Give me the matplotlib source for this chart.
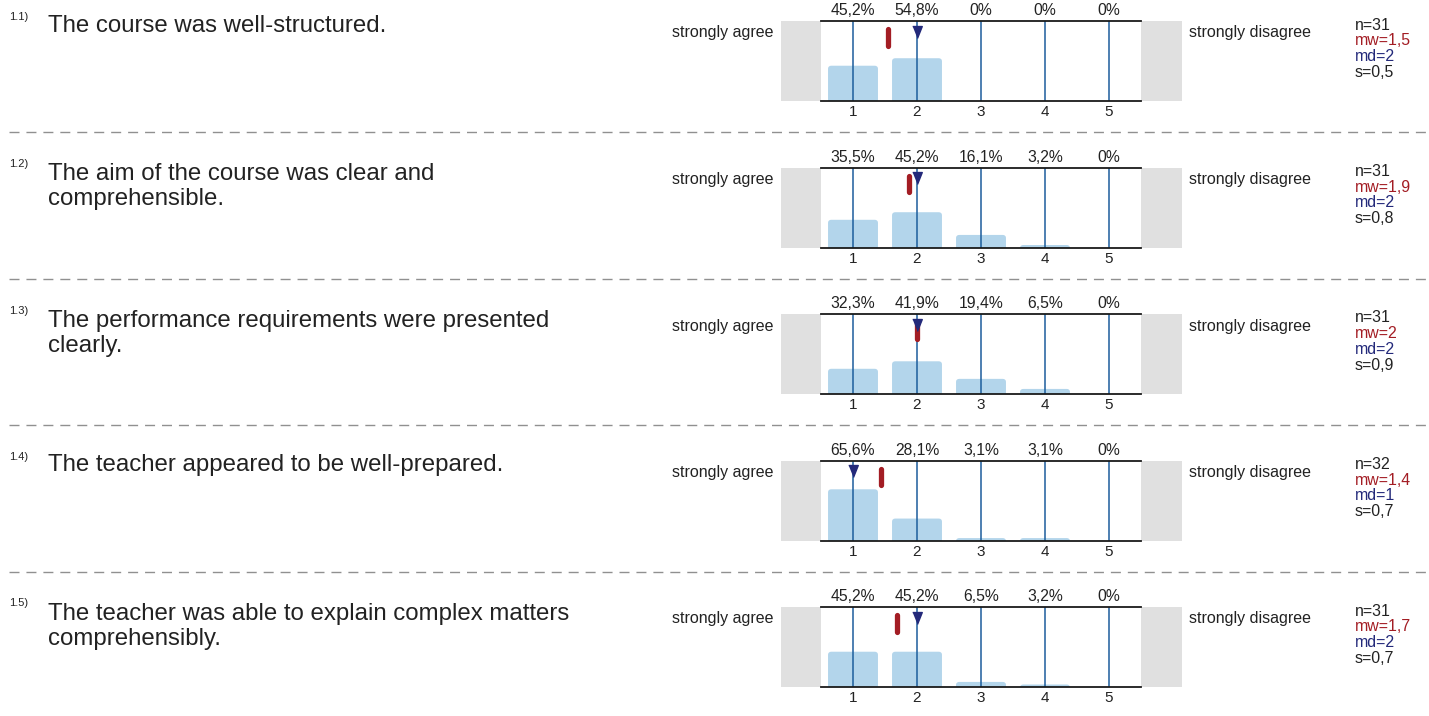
import matplotlib.pyplot as plt
from matplotlib.patches import Rectangle, FancyBboxPatch

plt.rcParams['font.family'] = ['Liberation Sans', 'DejaVu Sans']

# survey data, one entry per question
numbers = ['1.1)', '1.2)', '1.3)', '1.4)', '1.5)']
questions = [
    'The course was well-structured.',
    'The aim of the course was clear and\ncomprehensible.',
    'The performance requirements were presented\nclearly.',
    'The teacher appeared to be well-prepared.',
    'The teacher was able to explain complex matters\ncomprehensibly.',
]
scale = [1, 2, 3, 4, 5]
pct_1 = [45.2, 54.8, 0, 0, 0]
pct_2 = [35.5, 45.2, 16.1, 3.2, 0]
pct_3 = [32.3, 41.9, 19.4, 6.5, 0]
pct_4 = [65.6, 28.1, 3.1, 3.1, 0]
pct_5 = [45.2, 45.2, 6.5, 3.2, 0]
percents = [pct_1, pct_2, pct_3, pct_4, pct_5]
n_vals = [31, 31, 31, 32, 31]
mean_vals = [1.55, 1.87, 2.0, 1.44, 1.68]
mean_labels = ['1,5', '1,9', '2', '1,4', '1,7']
median_vals = [2, 2, 2, 1, 2]
sd_labels = ['0,5', '0,8', '0,9', '0,7', '0,7']
left_label = 'strongly agree'
right_label = 'strongly disagree'

W, H = 1429, 716
TXT = '#222222'
RED = '#a31d24'
NAVY = '#23297a'
BAR = '#b3d5eb'
VLINE = '#1c5d9c'
GRAY = '#e0e0e0'

fig = plt.figure(figsize=(W / 100, H / 100), dpi=100)


def fx(px):
    return px / W


def fy(py):
    return 1 - py / H


YMAX = 102.5
for i in range(len(questions)):
    top = 21 + i * 146.5

    # left column: number + question text (one text per line)
    fig.text(fx(9), fy(top - 3.5), numbers[i], fontsize=8, color=TXT, va='center')
    lines = questions[i].split('\n')
    base = top + (11 if len(lines) == 1 else 13)
    for k, line in enumerate(lines):
        fig.text(fx(48), fy(base + k * 25), line, fontsize=17.3, color=TXT,
                 va='baseline')

    fig.text(fx(773), fy(top + 12), left_label, fontsize=11.5, color=TXT,
             ha='right', va='center')
    fig.text(fx(1189), fy(top + 12), right_label, fontsize=11.5, color=TXT,
             ha='left', va='center')

    # stats block
    stats = [(f'n={n_vals[i]}', TXT), (f'mw={mean_labels[i]}', RED),
             (f'md={median_vals[i]}', NAVY), (f's={sd_labels[i]}', TXT)]
    for k, (s, c) in enumerate(stats):
        fig.text(fx(1355), fy(top + 4 + k * 15.7), s, fontsize=11.4, color=c,
                 ha='left', va='center')

    # chart box
    ax = fig.add_axes([fx(821), fy(top + 80), 320 / W, 80 / H])
    ax.set_xlim(0.5, 5.5)
    ax.set_ylim(0, YMAX)
    ax.set_facecolor('white')
    for side in ['left', 'right']:
        ax.spines[side].set_visible(False)
    for side in ['top', 'bottom']:
        ax.spines[side].set_color('#1a1a1a')
        ax.spines[side].set_linewidth(1.3)
        ax.spines[side].set_zorder(6)
    ax.set_yticks([])
    ax.set_xticks(scale)
    ax.set_xticklabels([str(s) for s in scale], fontsize=11, color=TXT)
    ax.tick_params(axis='x', length=0, pad=3)

    # grey end boxes
    ax.add_patch(Rectangle((-0.125, 0), 0.625, YMAX, color=GRAY, clip_on=False, lw=0))
    ax.add_patch(Rectangle((5.5, 0), 0.64, YMAX, color=GRAY, clip_on=False, lw=0))

    for x, p in zip(scale, percents[i]):
        if p > 0:
            ax.add_patch(FancyBboxPatch((x - 0.39, -5), 0.78, p + 5,
                                        boxstyle='round,pad=0,rounding_size=0.05',
                                        mutation_aspect=80, fc=BAR, ec='none', zorder=2))
        lab = (f'{p:.1f}'.replace('.', ',') if p > 0 else '0') + '%'
        ax.annotate(lab, (x, 1), xycoords=('data', 'axes fraction'),
                    xytext=(0, 2), textcoords='offset points',
                    ha='center', va='bottom', fontsize=11.3, color=TXT,
                    annotation_clip=False)

    ax.vlines(scale, 0, YMAX, color=VLINE, lw=1.1, zorder=3)

    # mean bar and median triangle
    ax.plot([mean_vals[i], mean_vals[i]], [92, 70.5], color=RED, lw=3.8,
            solid_capstyle='round', zorder=4)
    ax.plot([median_vals[i]], [88.5], marker=[(-0.4, 0.5), (0.4, 0.5), (0, -0.5)],
            markersize=8.6, color=NAVY, ls='none', zorder=5)

    # dashed separator
    if i < len(questions) - 1:
        fig.add_artist(plt.Line2D([fx(9), fx(1429)], [fy(top + 111)] * 2,
                                  color='#909090', lw=1, dashes=(7.2, 5)))

fig.savefig('out.png', dpi=100)
